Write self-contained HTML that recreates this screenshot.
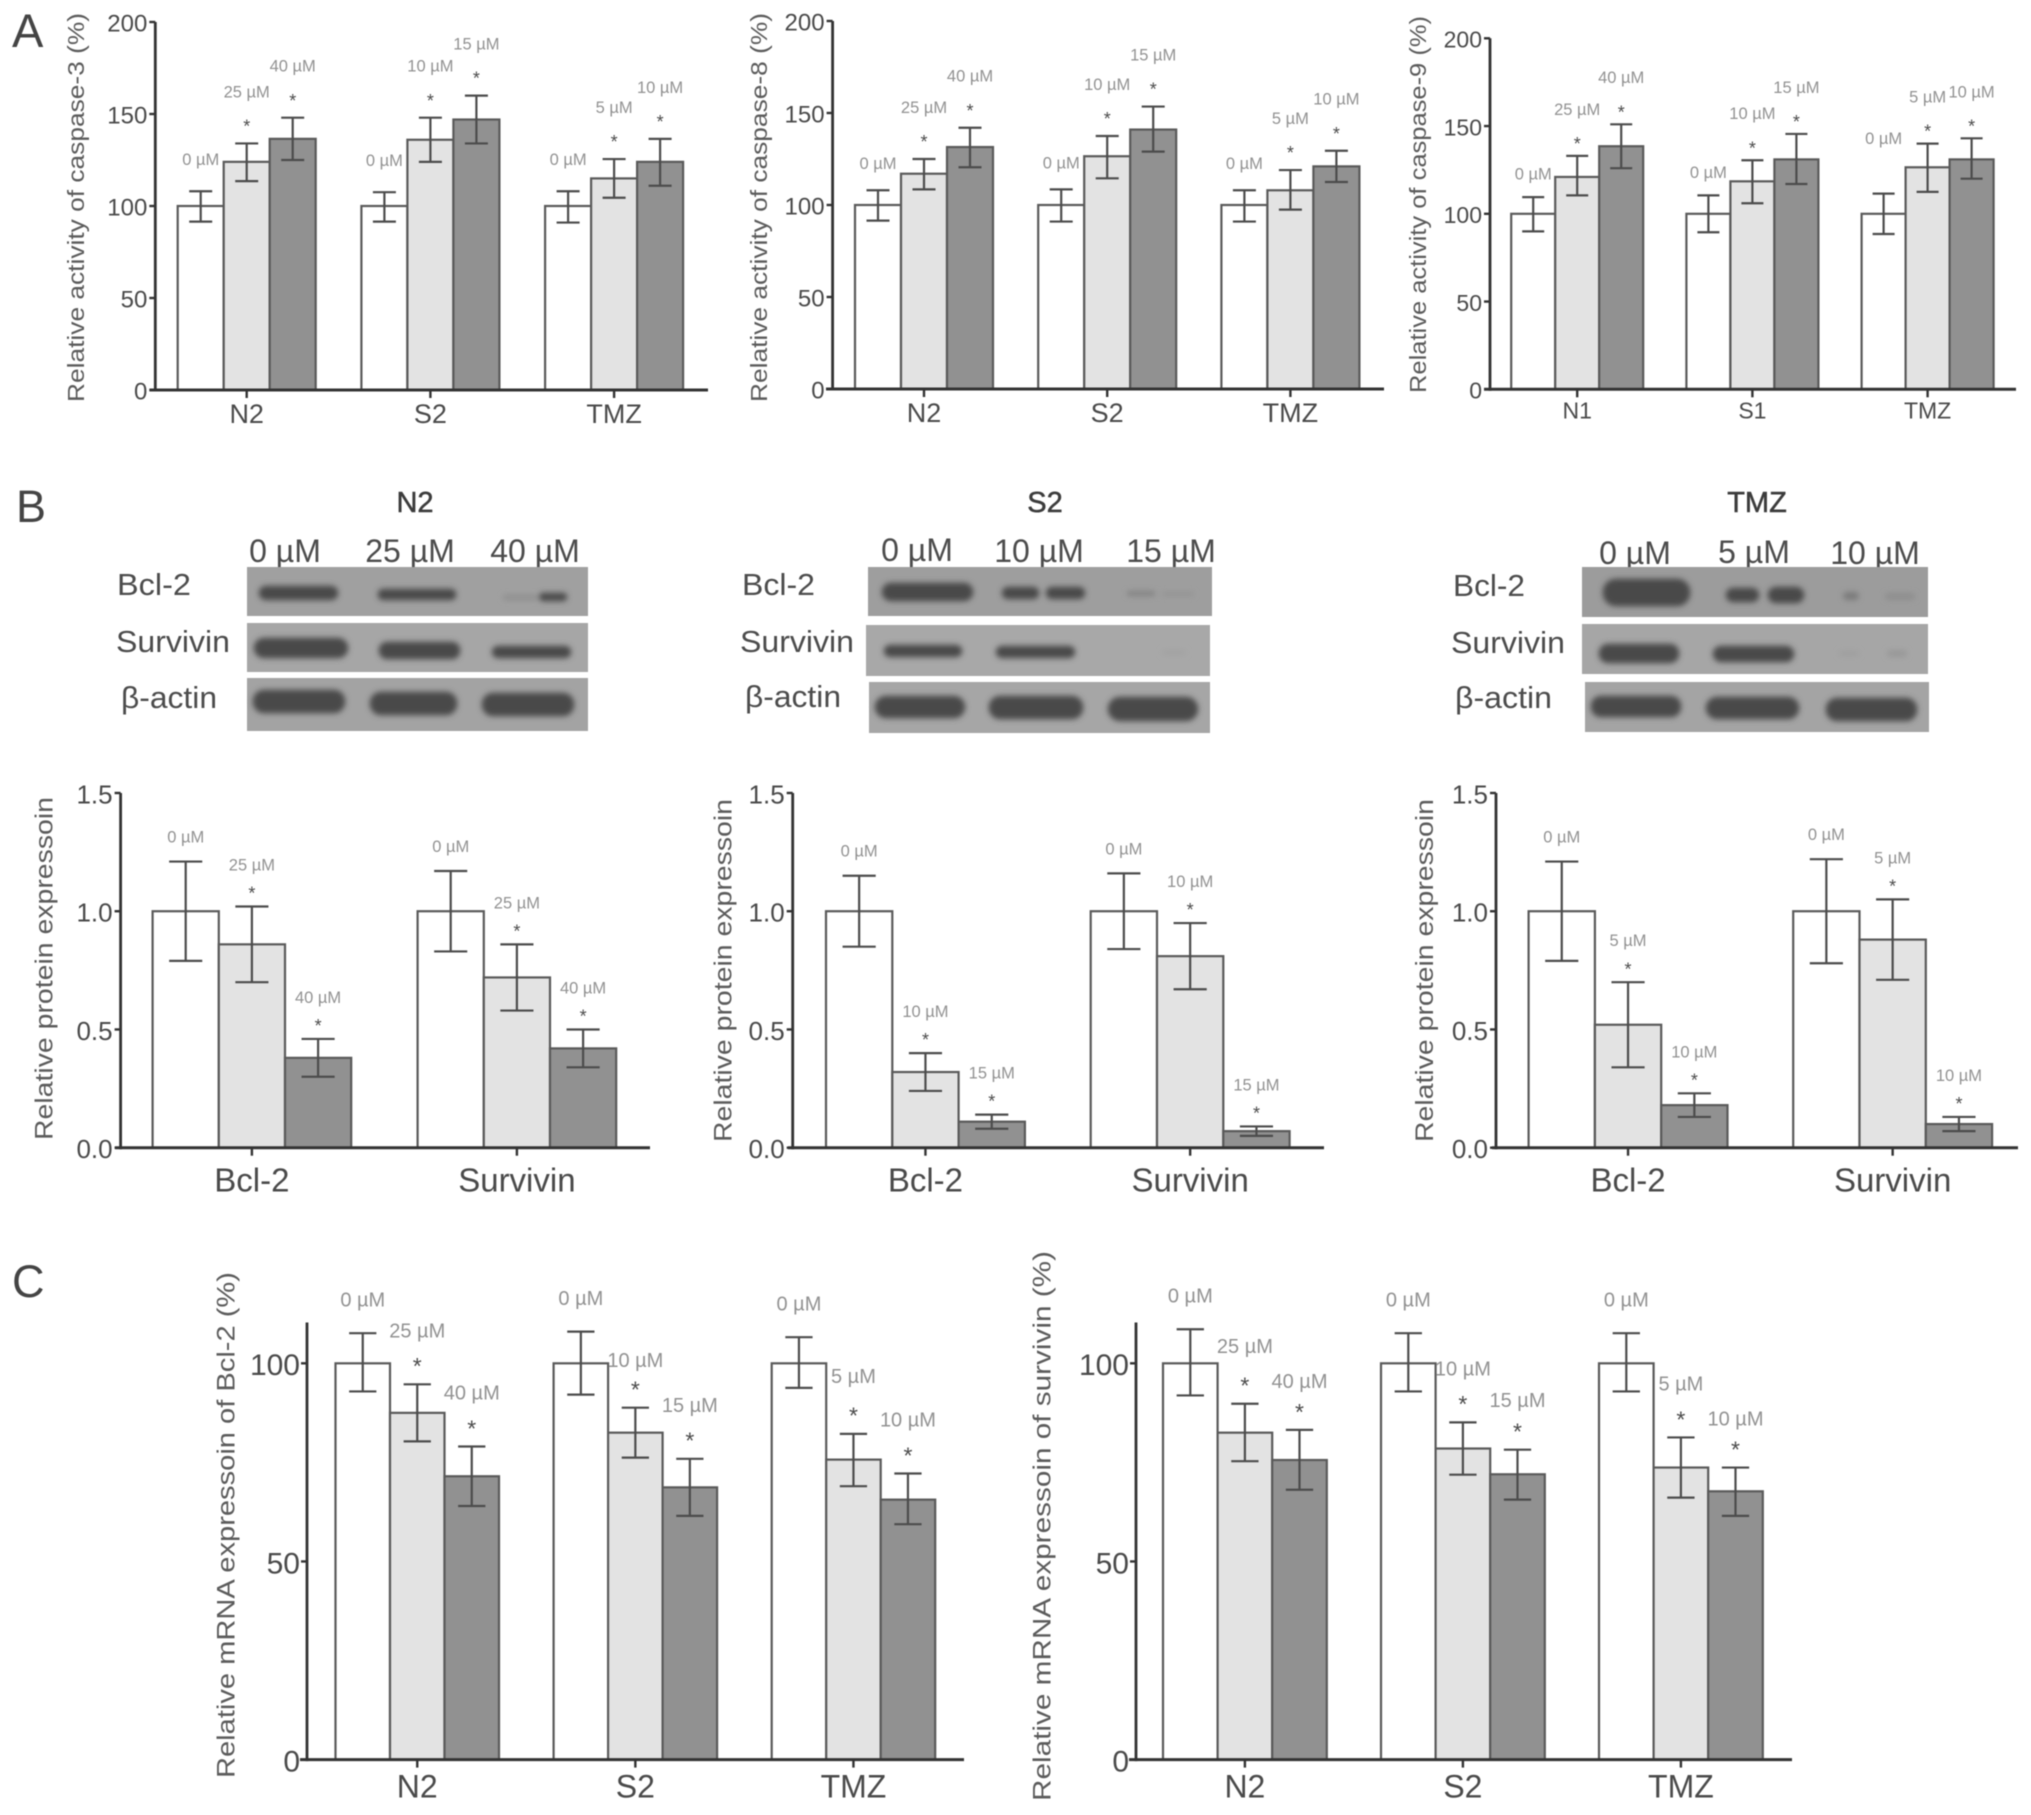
<!DOCTYPE html>
<html lang="en">
<head>
<meta charset="utf-8">
<title>Caspase activity, protein and mRNA expression figure</title>
<style>
html,body{margin:0;padding:0;background:#fff;}
body{width:2031px;height:1815px;overflow:hidden;}
svg{display:block;filter:blur(0.6px);}
text{font-family:"Liberation Sans",sans-serif;}
</style>
</head>
<body>
<svg id="figure" xmlns="http://www.w3.org/2000/svg" width="2031" height="1815" viewBox="0 0 2031 1815">
  <defs>
    <filter id="band-blur" x="-30%" y="-80%" width="160%" height="260%"><feGaussianBlur stdDeviation="3"/></filter>
  </defs>
  <rect width="2031" height="1815" fill="#fff"/>

  <text x="12" y="47" font-size="47" fill="#444">A</text>
  <text x="16" y="522" font-size="45" fill="#444">B</text>
  <text x="12" y="1297" font-size="45" fill="#444">C</text>

  <!-- Western blot N2 -->
  <g>
    <text x="415" y="512" font-size="29" fill="#3c3c3c" text-anchor="middle" stroke="#3c3c3c" stroke-width="0.5">N2</text>
    <g font-size="32" fill="#4c4c4c" text-anchor="middle">
      <text x="285" y="562">0 µM</text>
      <text x="410" y="562">25 µM</text>
      <text x="535" y="562">40 µM</text>
    </g>
    <g font-size="31" fill="#4c4c4c">
      <text x="117" y="595" textLength="74" lengthAdjust="spacingAndGlyphs">Bcl-2</text>
      <text x="116" y="652" textLength="114" lengthAdjust="spacingAndGlyphs">Survivin</text>
      <text x="121" y="708" textLength="96" lengthAdjust="spacingAndGlyphs">β-actin</text>
    </g>
    <rect x="247" y="567" width="341" height="49" fill="#a0a0a0"/>
    <rect x="247" y="623" width="341" height="49" fill="#a6a6a6"/>
    <rect x="247" y="678" width="341" height="53" fill="#a3a3a3"/>
    <g filter="url(#band-blur)" fill="#4a4a4a" stroke="#4a4a4a" stroke-width="2.5">
      <rect x="260" y="587" width="77" height="12" rx="6"/>
      <rect x="379" y="590" width="76" height="9" rx="4"/>
      <rect x="503" y="595" width="35" height="5" rx="2" fill="#8e8e8e" stroke="none"/>
      <rect x="540" y="594" width="26" height="6" rx="3"/>
      <rect x="255" y="639" width="92" height="18" rx="9"/>
      <rect x="380" y="643" width="79" height="15" rx="7"/>
      <rect x="493" y="647" width="77" height="10" rx="5"/>
      <rect x="254" y="691" width="90" height="21" rx="10"/>
      <rect x="371" y="693" width="85" height="21" rx="10"/>
      <rect x="483" y="694" width="90" height="21" rx="10"/>
    </g>
  </g>

  <!-- Western blot S2 -->
  <g>
    <text x="1045" y="512" font-size="29" fill="#3c3c3c" text-anchor="middle" stroke="#3c3c3c" stroke-width="0.5">S2</text>
    <g font-size="32" fill="#4c4c4c" text-anchor="middle">
      <text x="917" y="561">0 µM</text>
      <text x="1039" y="562">10 µM</text>
      <text x="1171" y="562">15 µM</text>
    </g>
    <g font-size="31" fill="#4c4c4c">
      <text x="742" y="595" textLength="73" lengthAdjust="spacingAndGlyphs">Bcl-2</text>
      <text x="740" y="652" textLength="114" lengthAdjust="spacingAndGlyphs">Survivin</text>
      <text x="745" y="707" textLength="96" lengthAdjust="spacingAndGlyphs">β-actin</text>
    </g>
    <rect x="868" y="567" width="344" height="49" fill="#9e9e9e"/>
    <rect x="866" y="625" width="344" height="51" fill="#a8a8a8"/>
    <rect x="869" y="682" width="341" height="51" fill="#a6a6a6"/>
    <g filter="url(#band-blur)" fill="#4a4a4a" stroke="#4a4a4a" stroke-width="2.5">
      <rect x="883" y="584" width="89" height="16" rx="8"/>
      <rect x="1003" y="588" width="35" height="10" rx="5"/>
      <rect x="1047" y="588" width="37" height="10" rx="5"/>
      <rect x="1127" y="591" width="28" height="5" rx="2" fill="#828282" stroke="none"/>
      <rect x="1162" y="592" width="32" height="4" rx="2" fill="#929292" stroke="none"/>
      <rect x="885" y="646" width="76" height="10" rx="5"/>
      <rect x="997" y="647" width="77" height="10" rx="5"/>
      <rect x="1162" y="650" width="24" height="5" rx="2" fill="#a2a2a2" stroke="none"/>
      <rect x="876" y="697" width="88" height="20" rx="10"/>
      <rect x="990" y="697" width="92" height="21" rx="10"/>
      <rect x="1109" y="698" width="88" height="22" rx="11"/>
    </g>
  </g>

  <!-- Western blot TMZ -->
  <g>
    <text x="1757" y="512" font-size="29" fill="#3c3c3c" text-anchor="middle" stroke="#3c3c3c" stroke-width="0.5">TMZ</text>
    <g font-size="32" fill="#4c4c4c" text-anchor="middle">
      <text x="1635" y="564">0 µM</text>
      <text x="1754" y="563">5 µM</text>
      <text x="1875" y="564">10 µM</text>
    </g>
    <g font-size="31" fill="#4c4c4c">
      <text x="1453" y="596" textLength="72" lengthAdjust="spacingAndGlyphs">Bcl-2</text>
      <text x="1451" y="653" textLength="114" lengthAdjust="spacingAndGlyphs">Survivin</text>
      <text x="1455" y="708" textLength="97" lengthAdjust="spacingAndGlyphs">β-actin</text>
    </g>
    <rect x="1582" y="567" width="346" height="50" fill="#9c9c9c"/>
    <rect x="1582" y="624" width="346" height="50" fill="#a6a6a6"/>
    <rect x="1585" y="682" width="344" height="50" fill="#a4a4a4"/>
    <g filter="url(#band-blur)" fill="#484848" stroke="#484848" stroke-width="2.5">
      <rect x="1604" y="580" width="85" height="25" rx="12"/>
      <rect x="1727" y="589" width="31" height="12" rx="6"/>
      <rect x="1769" y="588" width="34" height="14" rx="7"/>
      <rect x="1843" y="592" width="16" height="8" rx="4" fill="#7a7a7a" stroke="none"/>
      <rect x="1885" y="593" width="30" height="7" rx="3" fill="#8e8e8e" stroke="none"/>
      <rect x="1600" y="645" width="78" height="17" rx="8"/>
      <rect x="1714" y="647" width="79" height="14" rx="7"/>
      <rect x="1839" y="651" width="20" height="5" rx="2" fill="#9e9e9e" stroke="none"/>
      <rect x="1887" y="650" width="20" height="7" rx="3" fill="#989898" stroke="none"/>
      <rect x="1592" y="697" width="88" height="19" rx="9"/>
      <rect x="1707" y="698" width="91" height="20" rx="10"/>
      <rect x="1827" y="699" width="89" height="21" rx="10"/>
    </g>
  </g>

  <g id="panel-a1"></g>
  <g id="panel-a2"></g>
  <g id="panel-a3"></g>
  <g id="panel-b1"></g>
  <g id="panel-b2"></g>
  <g id="panel-b3"></g>
  <g id="panel-c1"></g>
  <g id="panel-c2"></g>
</svg>

<script>
// ---------- Chart data ----------
const caspaseTicks = ['0', '50', '100', '150', '200'];
const proteinTicks = ['0.0', '0.5', '1.0', '1.5'];
const mrnaTicks = ['0', '50', '100'];

const drugCategories = ['N2', 'S2', 'TMZ'];
const drugCategoriesLow = ['N1', 'S1', 'TMZ'];
const proteinCategories = ['Bcl-2', 'Survivin'];

const drugDoses = [['0 µM', '25 µM', '40 µM'], ['0 µM', '10 µM', '15 µM'], ['0 µM', '5 µM', '10 µM']];
const n2Doses = [['0 µM', '25 µM', '40 µM'], ['0 µM', '25 µM', '40 µM']];
const s2Doses = [['0 µM', '10 µM', '15 µM'], ['0 µM', '10 µM', '15 µM']];
const tmzDoses = [['0 µM', '5 µM', '10 µM'], ['0 µM', '5 µM', '10 µM']];

const a1Means = [[100, 124, 136.5], [100, 136, 147], [100, 115, 124]];
const a1Upper = [[108, 134, 148], [107.5, 148, 160], [108, 125.5, 136.5]];
const a1Lower = [[91.5, 113.5, 125], [91.5, 124, 134], [91, 104.5, 111]];

const a2Means = [[100, 117, 131.5], [100, 126.5, 141], [100, 108, 121]];
const a2Upper = [[108, 125, 142], [108.5, 137.5, 153.5], [108, 119, 129.5]];
const a2Lower = [[91.5, 108.5, 120.5], [91, 114.5, 129], [91, 97.5, 112.5]];

const a3Means = [[100, 121, 138.5], [100, 118.5, 131], [100, 126.5, 131]];
const a3Upper = [[109.5, 133, 151], [110.5, 130.5, 145.5], [111.5, 140, 143]];
const a3Lower = [[90, 110.5, 126], [89.5, 106, 117], [88.5, 112.5, 120]];

const b1Means = [[1.0, 0.86, 0.38], [1.0, 0.72, 0.42]];
const b1Upper = [[1.21, 1.02, 0.46], [1.17, 0.86, 0.50]];
const b1Lower = [[0.79, 0.70, 0.30], [0.83, 0.58, 0.34]];

const b2Means = [[1.0, 0.32, 0.11], [1.0, 0.81, 0.07]];
const b2Upper = [[1.15, 0.40, 0.14], [1.16, 0.95, 0.09]];
const b2Lower = [[0.85, 0.24, 0.08], [0.84, 0.67, 0.05]];

const b3Means = [[1.0, 0.52, 0.18], [1.0, 0.88, 0.10]];
const b3Upper = [[1.21, 0.70, 0.23], [1.22, 1.05, 0.13]];
const b3Lower = [[0.79, 0.34, 0.13], [0.78, 0.71, 0.07]];

const c1Means = [[100, 87.5, 71.5], [100, 82.5, 68.7], [100, 75.7, 65.6]];
const c1Upper = [[107.6, 94.7, 79], [108, 88.8, 75.9], [106.6, 82.2, 72.2]];
const c1Lower = [[92.9, 80.3, 64], [92.1, 76.2, 61.5], [93.8, 69, 59.4]];

const c2Means = [[100, 82.5, 75.6], [100, 78.5, 72], [100, 73.7, 67.7]];
const c2Upper = [[108.6, 89.8, 83.2], [107.6, 85.1, 78.2], [107.6, 81.3, 73.7]];
const c2Lower = [[91.9, 75.3, 68.1], [92.9, 71.9, 65.6], [92.9, 66.1, 61.5]];

// ---------- Panel layout (pixels live here, never in the data arrays) ----------
const layoutA = {axisMax: 200, tickFont: 24, catFont: 27, catDrop: 33, doseFont: 16.5, starFont: 18, starGap: 21, labelGap: 52, zeroGap: 29, titleFont: 23, tickGap: 8};
const layoutB = {axisMax: 1.5, tickFont: 26, catFont: 33, catDrop: 44, doseFont: 16.5, starFont: 18, starGap: 17, labelGap: 42, zeroGap: 25, titleFont: 25, tickGap: 8};
const layoutC = {axisMax: 110.3, tickFont: 30, catFont: 32, catDrop: 38, doseFont: 20, starFont: 23, starGap: 23, labelGap: 54, zeroGap: 34, titleFont: 25, tickGap: 7};

const panels = [
  Object.assign({}, layoutA, {id: 'panel-a1', categories: drugCategories, doses: drugDoses, ticks: caspaseTicks, means: a1Means, upper: a1Upper, lower: a1Lower,
    title: 'Relative activity of caspase-3  (%)', titleX: 76, titleTop: 13, titleLen: 389, zeroGap: 32,
    firstBar: 177.7, barWidth: 46, groupStep: 183.7, axisX: 155.3, lineStart: 149.5, lineEnd: 708, baseY: 390, topY: 22}),
  Object.assign({}, layoutA, {id: 'panel-a2', categories: drugCategories, doses: drugDoses, ticks: caspaseTicks, means: a2Means, upper: a2Upper, lower: a2Lower,
    title: 'Relative activity of caspase-8 (%)', titleX: 759, titleTop: 13, titleLen: 389, zeroGap: 27,
    firstBar: 855, barWidth: 46, groupStep: 183.2, axisX: 832.6, lineStart: 826, lineEnd: 1384, baseY: 389, topY: 21}),
  Object.assign({}, layoutA, {id: 'panel-a3', categories: drugCategoriesLow, doses: drugDoses, ticks: caspaseTicks, means: a3Means, upper: a3Upper, lower: a3Lower,
    title: 'Relative activity of caspase-9  (%)', titleX: 1418, titleTop: 16, titleLen: 377, catFont: 23, catDrop: 29, tickFont: 23,
    starGap: 16, labelGap: 47, zeroGap: 23.5, labelNudge: {'2,0': -32},
    firstBar: 1511.2, barWidth: 44, groupStep: 175.2, axisX: 1490, lineStart: 1484, lineEnd: 2016, baseY: 389.3, topY: 38.3}),
  Object.assign({}, layoutB, {id: 'panel-b1', categories: proteinCategories, doses: n2Doses, ticks: proteinTicks, means: b1Means, upper: b1Upper, lower: b1Lower,
    title: 'Relative protein expressoin', titleX: 44, titleTop: 797, titleLen: 343,
    firstBar: 152.6, barWidth: 66.2, groupStep: 265, axisX: 120.6, lineStart: 115, lineEnd: 650, baseY: 1147.7, topY: 793}),
  Object.assign({}, layoutB, {id: 'panel-b2', categories: proteinCategories, doses: s2Doses, ticks: proteinTicks, means: b2Means, upper: b2Upper, lower: b2Lower,
    title: 'Relative protein expressoin', titleX: 723, titleTop: 799, titleLen: 343,
    firstBar: 826, barWidth: 66.3, groupStep: 264.7, axisX: 792.7, lineStart: 788, lineEnd: 1324, baseY: 1147.7, topY: 793}),
  Object.assign({}, layoutB, {id: 'panel-b3', categories: proteinCategories, doses: tmzDoses, ticks: proteinTicks, means: b3Means, upper: b3Upper, lower: b3Lower,
    title: 'Relative protein expressoin', titleX: 1424.5, titleTop: 799, titleLen: 343,
    firstBar: 1528.6, barWidth: 66.3, groupStep: 264.6, axisX: 1496, lineStart: 1492, lineEnd: 2018, baseY: 1147.7, topY: 793}),
  Object.assign({}, layoutC, {id: 'panel-c1', categories: drugCategories, doses: drugDoses, ticks: mrnaTicks, means: c1Means, upper: c1Upper, lower: c1Lower,
    title: 'Relative mRNA expressoin of Bcl-2 (%)', titleX: 226, titleTop: 1272, titleLen: 506, labelNudge: {'1,1': 6, '2,1': -4},
    firstBar: 335.5, barWidth: 54.5, groupStep: 218.1, axisX: 307, lineStart: 300, lineEnd: 964, baseY: 1759.6, topY: 1322.5}),
  Object.assign({}, layoutC, {id: 'panel-c2', categories: drugCategories, doses: drugDoses, ticks: mrnaTicks, means: c2Means, upper: c2Upper, lower: c2Lower,
    title: 'Relative mRNA expressoin of survivin  (%)', titleX: 1042, titleTop: 1251, titleLen: 550, labelNudge: {'0,1': -4, '0,2': 5, '1,2': 4, '2,2': 5},
    firstBar: 1163, barWidth: 54.6, groupStep: 218, axisX: 1136, lineStart: 1129, lineEnd: 1792, baseY: 1759.6, topY: 1322.5})
];

const barFills = ['#ffffff', '#e3e3e3', '#919191'];
const barNames = ['control-bar', 'mid-dose-bar', 'high-dose-bar'];
const SVG_NS = 'http://www.w3.org/2000/svg';

function make(tag, attrs, parent, content) {
  const node = document.createElementNS(SVG_NS, tag);
  for (const key in attrs) node.setAttribute(key, attrs[key]);
  if (content !== undefined) node.textContent = content;
  parent.appendChild(node);
  return node;
}

function drawPanel(p) {
  const root = document.getElementById(p.id);
  const yScale = v => p.baseY - (v / p.axisMax) * (p.baseY - p.topY);
  const barLeft = (g, s) => p.firstBar + g * p.groupStep + s * p.barWidth;
  const barCentre = (g, s) => barLeft(g, s) + p.barWidth / 2;
  const capHalf = p.barWidth / 4;
  let el;

  // Bars, error bars, annotations
  p.means.forEach((group, g) => {
    group.forEach((value, s) => {
      el = make('rect', {x: barLeft(g, s), y: yScale(value), width: p.barWidth, height: p.baseY - yScale(value), fill: barFills[s], stroke: '#5a5a5a', 'stroke-width': 2.2}, root);
      
      
    });
  });
  p.means.forEach((group, g) => {
    group.forEach((value, s) => {
      const cx = barCentre(g, s);
      const yTop = yScale(p.upper[g][s]);
      const yBot = yScale(p.lower[g][s]);
      const errPath = 'M' + cx + ' ' + yTop + 'V' + yBot + 'M' + (cx - capHalf) + ' ' + yTop + 'H' + (cx + capHalf) + 'M' + (cx - capHalf) + ' ' + yBot + 'H' + (cx + capHalf);
      el = make('path', {d: errPath, fill: 'none', stroke: '#4c4c4c', 'stroke-width': 2.2}, root);
      
      

      const nudge = (p.labelNudge && p.labelNudge[g + ',' + s]) || 0;
      const labelCentre = yTop - (s === 0 ? p.zeroGap : p.labelGap) + nudge;
      el = make('text', {x: cx, y: labelCentre + p.doseFont * 0.36, 'font-size': p.doseFont, fill: '#929292', 'text-anchor': 'middle'}, root, p.doses[g][s]);
      
      

      if (s > 0) {
        const starCentre = yTop - p.starGap;
        el = make('text', {x: cx, y: starCentre + p.starFont * 0.56, 'font-size': p.starFont, fill: '#4c4c4c', 'text-anchor': 'middle'}, root, '*');
        
        
      }
    });
  });

  // Y axis and ticks
  el = make('line', {x1: p.axisX, x2: p.axisX, y1: p.topY, y2: p.baseY + 1.5, stroke: '#333', 'stroke-width': 2.8}, root);
  
  
  p.ticks.forEach(label => {
    const tickY = yScale(Number(label));
    el = make('line', {x1: p.axisX - 6, x2: p.axisX, y1: tickY, y2: tickY, stroke: '#333', 'stroke-width': 2.4}, root);
    
    
    el = make('text', {x: p.axisX - p.tickGap, y: tickY + p.tickFont * 0.36 + 1, 'font-size': p.tickFont, fill: '#4a4a4a', 'text-anchor': 'end'}, root, label);
    
    
  });

  // X axis and category ticks
  el = make('line', {x1: p.lineStart, x2: p.lineEnd, y1: p.baseY, y2: p.baseY, stroke: '#333', 'stroke-width': 3}, root);
  
  
  p.categories.forEach((name, g) => {
    const tickX = barCentre(g, 1);
    el = make('line', {x1: tickX, x2: tickX, y1: p.baseY, y2: p.baseY + 8, stroke: '#333', 'stroke-width': 2.4}, root);
    
    
    el = make('text', {x: tickX, y: p.baseY + p.catDrop, 'font-size': p.catFont, fill: '#4a4a4a', 'text-anchor': 'middle'}, root, name);
    
    
  });

  // Y axis title
  const titleY = p.titleTop + p.titleLen / 2;
  const titleBase = p.titleX + p.titleFont * 0.34;
  el = make('text', {x: titleBase, y: titleY, 'font-size': p.titleFont, fill: '#5c5c5c', 'text-anchor': 'middle', transform: 'rotate(-90 ' + titleBase + ' ' + titleY + ')', textLength: p.titleLen, lengthAdjust: 'spacingAndGlyphs'}, root, p.title);
  
  
}

panels.forEach(drawPanel);
</script>
</body>
</html>
